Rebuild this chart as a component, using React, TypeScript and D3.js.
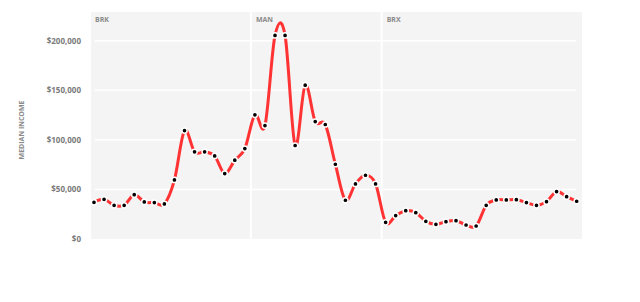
import React from "react";
import * as d3 from "d3";

const boroughs = ["BRK", "MAN", "BRX"];
const groupSizes = [16, 13, 20];
const incomes = [
  37000, 40000, 34000, 34000, 44700, 37400, 36700, 35400, 59600, 109400, 87900, 87900, 83800, 66000, 79500, 91200,
  125300, 114400, 205400, 205400, 94300, 155200, 118500, 115500, 75400, 39100, 55600, 64300, 55600,
  16800, 23600, 28600, 26600, 17800, 14800, 17500, 18500, 14100, 13100, 34000, 39400, 39400, 39700, 36700, 34000, 37700, 47800, 42700, 38100,
];
const yTicks = [0, 50000, 100000, 150000, 200000];

const W = 640;
const H = 302;

export default function App() {
  const idx = incomes.map((_, i) => i);
  const x = d3.scaleLinear().domain([0, incomes.length - 1]).range([94, 576.7]);
  const y = d3.scaleLinear().domain([0, 229000]).range([239, 12]);
  const line = d3
    .line<number>()
    .x((_, i) => x(i))
    .y((d) => y(d))
    .curve(d3.curveCardinal);
  const fmt = (v: number) => "$" + d3.format(",")(v);

  const starts: number[] = [];
  let acc = 0;
  groupSizes.forEach((s) => {
    starts.push(acc);
    acc += s;
  });

  const font = "'Open Sans', Lato, sans-serif";

  return (
    <svg
      width={W}
      height={H}
      style={{ position: "absolute", left: 0, top: 0, background: "#fff" }}
    >
      <rect x={91} y={12} width={491} height={227} fill="#f4f4f4" />
      {yTicks.map((t) => (
        <g key={t}>
          {t > 0 && (
            <line x1={95} x2={576} y1={y(t)} y2={y(t)} stroke="#fff" strokeWidth={1.5} />
          )}
          <text
            x={81}
            y={y(t)}
            dy="0.35em"
            textAnchor="end"
            fontFamily={font}
            fontSize={8}
            fontWeight={700}
            fill="#7a7a7a"
          >
            {fmt(t)}
          </text>
        </g>
      ))}
      {starts.slice(1).map((s) => {
        const bx = (x(s - 1) + x(s)) / 2 + 1;
        return <line key={s} x1={bx} x2={bx} y1={12} y2={239} stroke="#fff" strokeWidth={2} />;
      })}
      {boroughs.map((b, k) => (
        <text
          key={b}
          x={x(starts[k]) + 1}
          y={22}
          fontFamily={font}
          fontSize={7}
          fontWeight={700}
          fill="#8a8a8a"
        >
          {b}
        </text>
      ))}
      <text
        transform={`translate(24,130) rotate(-90)`}
        textAnchor="middle"
        fontFamily={font}
        fontSize={7}
        fontWeight={700}
        fill="#8a8a8a"
      >
        MEDIAN INCOME
      </text>
      <path d={line(incomes) || ""} fill="none" stroke="#ff3333" strokeWidth={3} />
      {idx.map((i) => (
        <circle
          key={i}
          cx={x(i)}
          cy={y(incomes[i])}
          r={2.6}
          fill="#000"
          stroke="#fff"
          strokeWidth={1.5}
        />
      ))}
    </svg>
  );
}
